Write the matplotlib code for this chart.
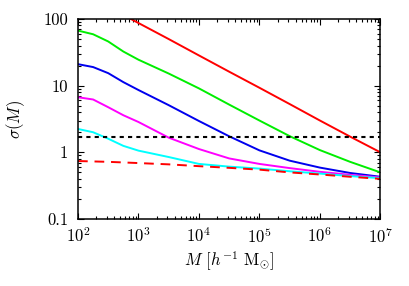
import matplotlib
matplotlib.use('Agg')
import matplotlib.pyplot as plt
import numpy as np

plt.rcParams['font.family'] = 'serif'
plt.rcParams['font.serif'] = ['cmr10', 'DejaVu Serif']
plt.rcParams['mathtext.fontset'] = 'cm'
plt.rcParams['axes.formatter.use_mathtext'] = True

# halo mass grid (h^-1 Msun) and sigma(M) curves
mass = [1e2, 1.78e2, 3.16e2, 5.62e2, 1e3, 3.16e3, 1e4, 3.16e4, 1e5, 3.16e5, 1e6, 3.16e6, 1e7]
sig_red = [268, 205, 153, 115, 87, 50, 28.4, 16.2, 9.3, 5.3, 3.0, 1.72, 1.0]
sig_green = [67, 59, 46, 32.5, 24.5, 15.2, 9.1, 5.2, 3.0, 1.75, 1.08, 0.72, 0.50]
sig_blue = [21, 19, 15.4, 11.3, 8.6, 5.1, 2.95, 1.74, 1.07, 0.75, 0.59, 0.49, 0.43]
sig_magenta = [6.7, 6.2, 4.75, 3.6, 2.85, 1.66, 1.12, 0.81, 0.67, 0.58, 0.51, 0.46, 0.42]
sig_cyan = [2.24, 2.0, 1.6, 1.25, 1.06, 0.85, 0.67, 0.61, 0.57, 0.52, 0.48, 0.44, 0.41]
sig_dashed = [0.74, 0.73, 0.72, 0.705, 0.69, 0.66, 0.62, 0.585, 0.55, 0.50, 0.465, 0.43, 0.40]
delta_c = 1.72
xticks = [1e2, 1e3, 1e4, 1e5, 1e6, 1e7]
yticks = [0.1, 1, 10, 100]
ytick_labels = ['0.1', '1', '10', '100']

fig = plt.figure(figsize=(4.09, 2.86), dpi=100)
ax = fig.add_axes([0.1907, 0.2343, 0.7393, 0.6993])

lw = 1.4
ax.plot(mass, sig_red, color='#ff0000', lw=lw)
ax.plot(mass, sig_green, color='#00ee00', lw=lw)
ax.plot(mass, sig_blue, color='#0000ee', lw=lw)
ax.plot(mass, sig_magenta, color='#ff00ff', lw=lw)
ax.plot(mass, sig_cyan, color='#00ffff', lw=lw)
ax.plot(mass, sig_dashed, color='#ff0000', lw=lw, linestyle=(0, (5, 3.5)))
ax.axhline(delta_c, color='black', lw=1.5, linestyle=(0, (2, 2)))

ax.set_xscale('log')
ax.set_yscale('log')
ax.set_xlim(1e2, 1e7)
ax.set_ylim(0.1, 100)
ax.set_xticks(xticks)
ax.set_yticks(yticks)
ax.set_yticklabels(ytick_labels)

ax.tick_params(which='both', direction='in', top=True, right=True, labelsize=12, width=0.8)
ax.tick_params(which='major', length=4, pad=5)
ax.tick_params(which='minor', length=2)
ax.tick_params(axis='y', which='major', pad=7)
for s in ax.spines.values():
    s.set_linewidth(1.1)

ax.set_xlabel(r'$M$ [$h^{-1}$ M$_{\odot}$]', fontsize=12, labelpad=3)
ax.set_ylabel(r'$\sigma(M)$', fontsize=12, labelpad=12)

fig.savefig('out.png', dpi=100)
